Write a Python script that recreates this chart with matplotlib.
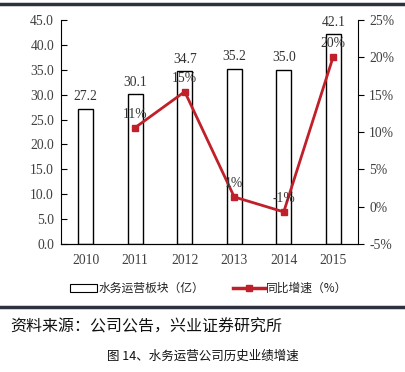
import matplotlib.pyplot as plt
from matplotlib.lines import Line2D
from matplotlib.patches import Rectangle

plt.rcParams['font.family'] = ['Liberation Serif', 'Noto Sans CJK SC', 'DejaVu Sans']

years = ['2010', '2011', '2012', '2013', '2014', '2015']
revenue = [27.2, 30.1, 34.7, 35.2, 35.0, 42.1]
growth_years = [1, 2, 3, 4, 5]
growth = [10.6, 15.4, 1.3, -0.7, 20.1]
growth_labels = ['11%', '15%', '1%', '-1%', '20%']

red = '#c0202a'
gray = '#404040'
fs = 9.8

fig = plt.figure(figsize=(4.05, 3.72), dpi=100)
ax = fig.add_axes([61 / 405, 1 - 244 / 372, 297 / 405, 224 / 372])
x = list(range(len(years)))
ax.bar(x, revenue, width=0.3, color='white', edgecolor='black', linewidth=1.0)
for xi, v in zip(x, revenue):
    ax.annotate('%.1f' % v, (xi, v), xytext=(0, 4), textcoords='offset points',
                ha='center', va='bottom', fontsize=fs, color='#333333')
ax.set_xlim(-0.5, 5.5)
ax.set_ylim(0, 45)
ax.set_yticks([i * 5 for i in range(10)])
ax.set_yticklabels(['%.1f' % (i * 5) for i in range(10)])
ax.set_xticks(x)
ax.set_xticklabels(years)
ax.tick_params(axis='y', direction='in', length=4, labelsize=fs, labelcolor=gray, pad=5)
ax.tick_params(axis='x', length=0, labelsize=fs, labelcolor=gray, pad=7)
ax.spines['top'].set_visible(False)
ax.spines['right'].set_visible(False)

ax2 = ax.twinx()
ax2.plot(growth_years, growth, color=red, linewidth=2, marker='s', markersize=5)
for xi, v, t in zip(growth_years, growth, growth_labels):
    ax2.annotate(t, (xi, v), xytext=(0, 5), textcoords='offset points',
                 ha='center', va='bottom', fontsize=fs, color='#333333')
ax2.set_ylim(-5, 25)
ax2.set_yticks([-5, 0, 5, 10, 15, 20, 25])
ax2.set_yticklabels(['%d%%' % t for t in [-5, 0, 5, 10, 15, 20, 25]])
ax2.tick_params(axis='y', direction='out', length=4, labelsize=fs, labelcolor=gray, pad=4)
ax2.spines['top'].set_visible(False)
ax2.spines['left'].set_visible(False)

# legend
fig.patches.append(Rectangle((70 / 405, 1 - 292 / 372), 27 / 405, 8 / 372,
                             transform=fig.transFigure, facecolor='white',
                             edgecolor='black', linewidth=0.8))
fig.text(99 / 405, 1 - 288 / 372, '水务运营板块（亿）', fontsize=8.5, va='center',
         family=['Noto Sans CJK SC'], color='#222222')
fig.lines.append(Line2D([233 / 405, 265 / 405], [1 - 288 / 372] * 2, transform=fig.transFigure,
                        color=red, linewidth=2.5))
fig.lines.append(Line2D([249 / 405], [1 - 288 / 372], transform=fig.transFigure,
                        color=red, marker='s', markersize=4))
fig.text(266 / 405, 1 - 288 / 372, '同比增速（%）', fontsize=8.5, va='center',
         family=['Noto Sans CJK SC'], color='#222222')

# rules
rule = '#2e3140'
fig.lines.append(Line2D([0, 1], [1 - 4 / 372] * 2, transform=fig.transFigure, color=rule, linewidth=2.5))
fig.lines.append(Line2D([0, 1], [1 - 307 / 372] * 2, transform=fig.transFigure, color=rule, linewidth=2.5))

fig.text(10 / 405, 1 - 327 / 372, '资料来源：公司公告，兴业证券研究所', fontsize=11.5, va='center',
         family=['Noto Sans CJK SC'], color='#111111')
fig.text(0.5, 1 - 356 / 372, '图 14、水务运营公司历史业绩增速', fontsize=9, va='center', ha='center',
         family=['Noto Sans CJK SC'], color='#111111')

fig.savefig('out.png', dpi=100)
